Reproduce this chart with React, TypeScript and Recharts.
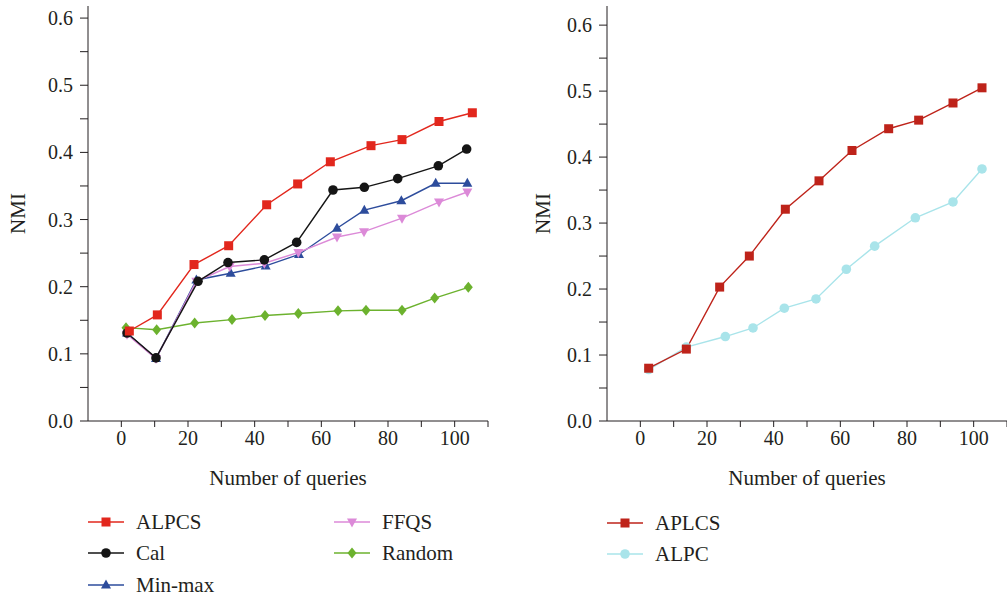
import { Line, LineChart, XAxis, YAxis } from 'recharts';

const queryTicks = [0, 10, 20, 30, 40, 50, 60, 70, 80, 90, 100, 110];
const queryLabels = [0, 20, 40, 60, 80, 100];
const nmiTicks = [0, 0.05, 0.1, 0.15, 0.2, 0.25, 0.3, 0.35, 0.4, 0.45, 0.5, 0.55, 0.6];

// left panel
const alpcsX = [2.4, 10.8, 21.8, 32.2, 43.6, 52.9, 62.7, 74.9, 84.2, 95.3, 105.3];
const alpcsY = [0.134, 0.158, 0.233, 0.261, 0.322, 0.353, 0.386, 0.41, 0.419, 0.446, 0.459];
const calX = [1.7, 10.4, 23.0, 32.0, 42.9, 52.6, 63.5, 72.9, 82.9, 95.1, 103.6];
const calY = [0.131, 0.094, 0.208, 0.236, 0.24, 0.266, 0.344, 0.348, 0.361, 0.38, 0.405];
const minmaxX = [1.7, 10.4, 22.5, 32.8, 43.3, 53.3, 64.7, 72.9, 84.0, 94.3, 103.8];
const minmaxY = [0.131, 0.093, 0.21, 0.22, 0.231, 0.248, 0.287, 0.314, 0.328, 0.354, 0.354];
const ffqsX = [1.7, 10.4, 22.5, 32.5, 42.9, 53.1, 64.7, 72.8, 84.2, 95.3, 103.8];
const ffqsY = [0.129, 0.093, 0.208, 0.23, 0.235, 0.251, 0.274, 0.282, 0.302, 0.326, 0.341];
const randomX = [1.4, 10.6, 22.0, 33.2, 43.1, 53.1, 65.0, 73.4, 84.2, 94.0, 104.1];
const randomY = [0.139, 0.136, 0.146, 0.151, 0.157, 0.16, 0.164, 0.165, 0.165, 0.183, 0.199];

// right panel
const aplcsX = [2.5, 13.8, 23.8, 32.7, 43.5, 53.6, 63.5, 74.5, 83.5, 93.8, 102.5];
const aplcsY = [0.08, 0.109, 0.203, 0.25, 0.321, 0.364, 0.41, 0.443, 0.456, 0.482, 0.505];
const alpcX = [2.5, 13.8, 25.5, 33.8, 43.2, 52.7, 61.8, 70.3, 82.5, 93.8, 102.5];
const alpcY = [0.078, 0.112, 0.128, 0.141, 0.171, 0.185, 0.23, 0.265, 0.308, 0.332, 0.382];

const zip = (xs: number[], ys: number[]) => xs.map((x, i) => ({ x, y: ys[i] }));

const FONT = '"Liberation Serif", "Times New Roman", Times, serif';
const INK = '#231f20';

type Shape = 'square' | 'circle' | 'triangle' | 'triangleDown' | 'diamond';

function Marker({ shape, cx, cy, color }: { shape: Shape; cx: number; cy: number; color: string }) {
  if (shape === 'square') return <rect x={cx - 4.5} y={cy - 4.5} width={9} height={9} fill={color} />;
  if (shape === 'circle') return <circle cx={cx} cy={cy} r={4.8} fill={color} />;
  if (shape === 'triangle')
    return <polygon points={`${cx},${cy - 5.5} ${cx + 5},${cy + 3.5} ${cx - 5},${cy + 3.5}`} fill={color} />;
  if (shape === 'triangleDown')
    return <polygon points={`${cx},${cy + 5.5} ${cx + 5},${cy - 3.5} ${cx - 5},${cy - 3.5}`} fill={color} />;
  return <polygon points={`${cx},${cy - 5.5} ${cx + 4.5},${cy} ${cx},${cy + 5.5} ${cx - 4.5},${cy}`} fill={color} />;
}

const dotOf = (shape: Shape, color: string) => (p: any) => (
  <Marker key={`${shape}-${p.index}`} shape={shape} cx={p.cx} cy={p.cy} color={color} />
);

const xFmt = (v: number) => (queryLabels.includes(v) ? String(v) : '');
const yFmt = (v: number) => (Math.round(v * 100) % 10 === 0 ? v.toFixed(1) : '');

const leftSeries = [
  { name: 'Random', shape: 'diamond' as Shape, color: '#6cb22e', data: zip(randomX, randomY) },
  { name: 'Min-max', shape: 'triangle' as Shape, color: '#2d4c9c', data: zip(minmaxX, minmaxY) },
  { name: 'FFQS', shape: 'triangleDown' as Shape, color: '#dc8ad8', data: zip(ffqsX, ffqsY) },
  { name: 'Cal', shape: 'circle' as Shape, color: '#151515', data: zip(calX, calY) },
  { name: 'ALPCS', shape: 'square' as Shape, color: '#e2271d', data: zip(alpcsX, alpcsY) },
];

const rightSeries = [
  { name: 'ALPC', shape: 'circle' as Shape, color: '#a9e4ea', data: zip(alpcX, alpcY) },
  { name: 'APLCS', shape: 'square' as Shape, color: '#be231a', data: zip(aplcsX, aplcsY) },
];

function Panel({ series, yMax, nmiOffset }: { series: typeof leftSeries; yMax: number; nmiOffset: number }) {
  const isLeft = series === leftSeries;
  return (
    <LineChart
      width={isLeft ? 500 : 487}
      height={490}
      margin={{ top: 6, right: isLeft ? 12 : 0, bottom: 0, left: 0 }}
      style={{ fontFamily: FONT }}
    >
      <XAxis
        type="number"
        dataKey="x"
        domain={[-10, 110]}
        ticks={queryTicks}
        tickFormatter={xFmt}
        allowDataOverflow
        height={69}
        tickSize={6}
        tickMargin={4}
        stroke={INK}
        tick={{ fill: INK, fontSize: 20, fontFamily: FONT }}
        label={{
          value: 'Number of queries',
          position: 'insideBottom',
          offset: 5,
          fill: INK,
          fontSize: 21,
          fontFamily: FONT,
        }}
      />
      <YAxis
        type="number"
        dataKey="y"
        domain={[0, yMax]}
        ticks={nmiTicks}
        tickFormatter={yFmt}
        allowDataOverflow
        width={isLeft ? 88 : 87}
        tickSize={8}
        tickMargin={7}
        stroke={INK}
        tick={{ fill: INK, fontSize: 20, fontFamily: FONT }}
        label={{
          value: 'NMI',
          angle: -90,
          position: 'insideLeft',
          offset: nmiOffset,
          fill: INK,
          fontSize: 21,
          fontFamily: FONT,
          style: { textAnchor: 'middle' },
        }}
      />
      {series.map((s) => (
        <Line
          key={s.name}
          data={s.data}
          dataKey="y"
          name={s.name}
          stroke={s.color}
          strokeWidth={1.4}
          dot={dotOf(s.shape, s.color)}
          activeDot={false}
          isAnimationActive={false}
        />
      ))}
    </LineChart>
  );
}

function LegendItem({ x, y, shape, color, name }: { x: number; y: number; shape: Shape; color: string; name: string }) {
  return (
    <div style={{ position: 'absolute', left: x, top: y - 12, height: 24, display: 'flex', alignItems: 'center' }}>
      <svg width={36} height={24}>
        <line x1={0} y1={12} x2={36} y2={12} stroke={color} strokeWidth={1.4} />
        <Marker shape={shape} cx={18} cy={12} color={color} />
      </svg>
      <span style={{ marginLeft: 12, fontSize: 21, color: INK, fontFamily: FONT, lineHeight: '24px' }}>{name}</span>
    </div>
  );
}

export default function App() {
  const find = (list: typeof leftSeries, n: string) => list.find((s) => s.name === n)!;
  const leftLegend = [
    { n: 'ALPCS', x: 88, y: 522 },
    { n: 'Cal', x: 88, y: 553 },
    { n: 'Min-max', x: 88, y: 585 },
    { n: 'FFQS', x: 334, y: 522 },
    { n: 'Random', x: 334, y: 553 },
  ];
  const rightLegend = [
    { n: 'APLCS', x: 607, y: 523 },
    { n: 'ALPC', x: 607, y: 554 },
  ];
  return (
    <div
      style={{
        position: 'absolute',
        left: 0,
        top: 0,
        width: 1007,
        height: 597,
        background: '#fff',
        overflow: 'hidden',
        fontFamily: FONT,
      }}
    >
      <div style={{ position: 'absolute', left: 0, top: 0 }}>
        <Panel series={leftSeries} yMax={0.618} nmiOffset={18} />
      </div>
      <div style={{ position: 'absolute', left: 520, top: 0 }}>
        <Panel series={rightSeries} yMax={0.629} nmiOffset={23} />
      </div>
      {leftLegend.map((l) => {
        const s = find(leftSeries, l.n);
        return <LegendItem key={l.n} x={l.x} y={l.y} shape={s.shape} color={s.color} name={s.name} />;
      })}
      {rightLegend.map((l) => {
        const s = find(rightSeries, l.n);
        return <LegendItem key={l.n} x={l.x} y={l.y} shape={s.shape} color={s.color} name={s.name} />;
      })}
    </div>
  );
}
